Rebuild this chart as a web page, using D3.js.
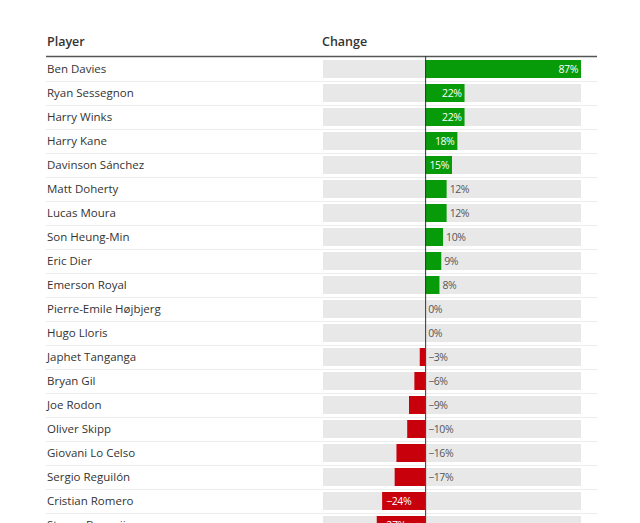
<!DOCTYPE html>
<html>
<head>
<meta charset="utf-8">
<script src="https://cdn.jsdelivr.net/npm/d3@7"></script>
<style>
    body { margin: 0; background: #fff; }
    svg { display: block; font-family: "Open Sans", sans-serif; }
</style>
</head>
<body>
<svg id="svg"></svg>
<script>
// players, top to bottom
const players = [
    "Ben Davies", "Ryan Sessegnon", "Harry Winks", "Harry Kane", "Davinson Sánchez",
    "Matt Doherty", "Lucas Moura", "Son Heung-Min", "Eric Dier", "Emerson Royal",
    "Pierre-Emile Højbjerg", "Hugo Lloris", "Japhet Tanganga", "Bryan Gil", "Joe Rodon",
    "Oliver Skipp", "Giovani Lo Celso", "Sergio Reguilón", "Cristian Romero", "Steven Bergwijn"
];
// change in %
const changes = [87, 22, 22, 18, 15, 12, 12, 10, 9, 8, 0, 0, -3, -6, -9, -10, -16, -17, -24, -27];
const xDomain = [-57, 87];

const width = 640;
const height = 523;

let svg = d3.select("#svg")
    .attr("width", width)
    .attr("height", height);

const data = players.map((p, i) => ({ player: p, value: changes[i] }));

let xScale = d3.scaleLinear()
    .domain(xDomain)
    .range([323, 581]);

let yScale = d3.scaleBand()
    .domain(players)
    .range([57, 57 + 24 * players.length])
    .paddingInner(0.25)
    .paddingOuter(0.125);

// headers
svg.append("text")
    .attr("x", 47)
    .attr("y", 46)
    .style("font-size", "12.5px")
    .style("font-weight", 600)
    .style("fill", "#333")
    .text("Player");

svg.append("text")
    .attr("x", 322)
    .attr("y", 46)
    .style("font-size", "12.5px")
    .style("font-weight", 600)
    .style("fill", "#333")
    .text("Change");

// row separators
svg.selectAll(".sep")
    .data(players)
    .enter()
    .append("line")
        .attr("x1", 46)
        .attr("x2", 597)
        .attr("y1", d => yScale(d) + yScale.bandwidth() + 3.5)
        .attr("y2", d => yScale(d) + yScale.bandwidth() + 3.5)
        .style("stroke", "#ececec")
        .style("stroke-width", 1);

// header rule
svg.append("line")
    .attr("x1", 46)
    .attr("x2", 597)
    .attr("y1", 56.5)
    .attr("y2", 56.5)
    .style("stroke", "#555")
    .style("stroke-width", 1.5);

// grey backgrounds
svg.selectAll(".bg")
    .data(data)
    .enter()
    .append("rect")
        .attr("x", xScale(xDomain[0]))
        .attr("width", xScale(xDomain[1]) - xScale(xDomain[0]))
        .attr("y", d => yScale(d.player))
        .attr("height", yScale.bandwidth())
        .style("fill", "#e8e8e8");

// bars
svg.selectAll(".bar")
    .data(data)
    .enter()
    .append("rect")
        .attr("x", d => xScale(Math.min(0, d.value)))
        .attr("width", d => Math.abs(xScale(d.value) - xScale(0)))
        .attr("y", d => yScale(d.player))
        .attr("height", yScale.bandwidth())
        .style("fill", d => d.value >= 0 ? "#079b0a" : "#c8000b");

// zero line
svg.append("line")
    .attr("x1", xScale(0) + 0.5)
    .attr("x2", xScale(0) + 0.5)
    .attr("y1", 56)
    .attr("y2", height)
    .style("stroke", "#333")
    .style("stroke-width", 1);

// player names
svg.selectAll(".name")
    .data(data)
    .enter()
    .append("text")
        .attr("x", 47)
        .attr("y", d => yScale(d.player) + yScale.bandwidth() / 2 + 4)
        .style("font-size", "11.5px")
        .style("fill", "#333")
        .text(d => d.player);

function inside(d) {
    return d.value >= 15 || d.value <= -20;
}

function fmt(v) {
    return (v < 0 ? "\u2212" + Math.abs(v) : v) + "%";
}

// value labels
svg.selectAll(".val")
    .data(data)
    .enter()
    .append("text")
        .attr("x", d => {
            if (inside(d)) return d.value > 0 ? xScale(d.value) - 3 : xScale(d.value) + 4;
            return d.value > 0 ? xScale(d.value) + 3 : xScale(0) + 3;
        })
        .attr("y", d => yScale(d.player) + yScale.bandwidth() / 2 + 4)
        .attr("text-anchor", d => inside(d) && d.value > 0 ? "end" : "start")
        .style("font-size", "10.5px")
        .style("letter-spacing", "-0.4px")
        .style("fill", d => inside(d) ? "#fff" : "#555")
        .text(d => fmt(d.value));
</script>
</body>
</html>
